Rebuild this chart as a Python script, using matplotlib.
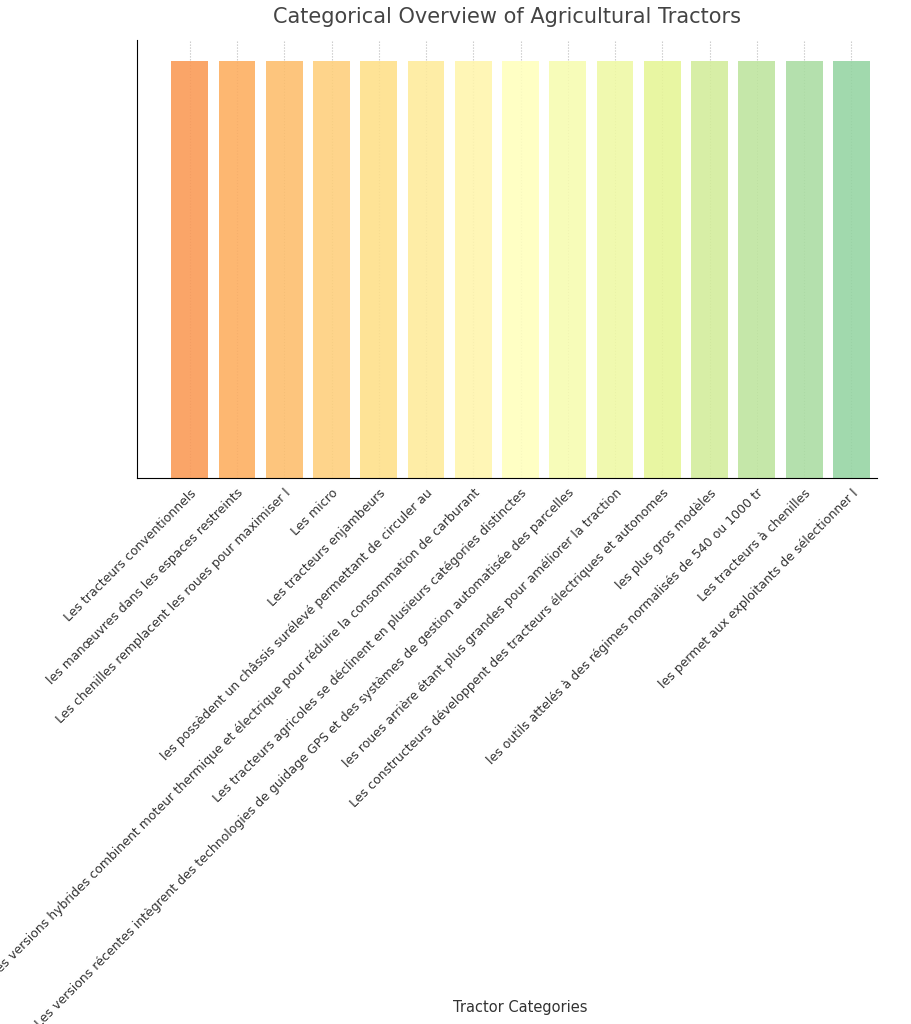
import matplotlib
matplotlib.use("Agg")
import matplotlib.pyplot as plt
import numpy as np

categories = [
    "Les tracteurs conventionnels",
    "les manœuvres dans les espaces restreints",
    "Les chenilles remplacent les roues pour maximiser l",
    "Les micro",
    "Les tracteurs enjambeurs",
    "les possèdent un châssis surélevé permettant de circuler au",
    "Les versions hybrides combinent moteur thermique et électrique pour réduire la consommation de carburant",
    "Les tracteurs agricoles se déclinent en plusieurs catégories distinctes",
    "Les versions récentes intègrent des technologies de guidage GPS et des systèmes de gestion automatisée des parcelles",
    "les roues arrière étant plus grandes pour améliorer la traction",
    "Les constructeurs développent des tracteurs électriques et autonomes",
    "les plus gros modèles",
    "les outils attelés à des régimes normalisés de 540 ou 1000 tr",
    "Les tracteurs à chenilles",
    "les permet aux exploitants de sélectionner l",
]
values = [1] * 15

fig = plt.figure(figsize=(9.12, 10.24), dpi=100)
ax = fig.add_axes([0.15, 0.533, 0.812, 0.428])
colors = plt.cm.Spectral(np.linspace(0.27, 0.73, len(categories)))
x = np.arange(len(categories))
ax.bar(x, values, color=colors, alpha=0.9, width=0.78, zorder=2)
ax.set_ylim(0, 1.05)
ax.set_xlim(-1.12, 14.55)
ax.set_yticks([])
ax.set_xticks(x)
ax.set_xticklabels(categories, rotation=45, ha="right", rotation_mode="anchor",
                   fontsize=9, color="#333333")
ax.tick_params(axis="x", length=0, pad=6)
ax.grid(axis="x", linestyle=":", color="#bbbbbb", zorder=0)
for s in ["top", "right"]:
    ax.spines[s].set_visible(False)
ax.set_title("Categorical Overview of Agricultural Tractors", fontsize=15,
             color="#444444", pad=12)
fig.text(0.57, 0.012, "Tractor Categories", ha="center", fontsize=10.5, color="#333333")
fig.savefig("out.png", dpi=100)
